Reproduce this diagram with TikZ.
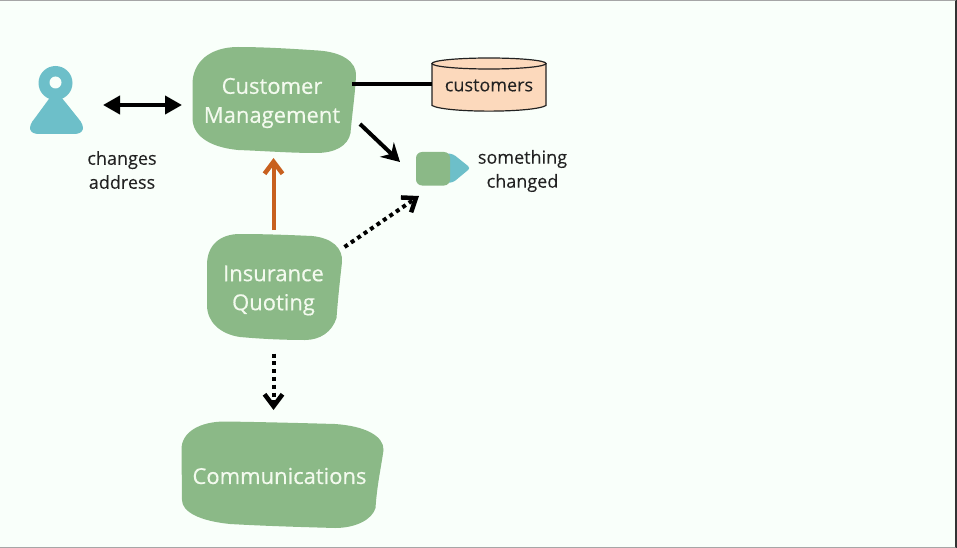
\documentclass[tikz,border=0pt]{standalone}
\usepackage{fontspec}
\setmainfont{Open Sans}
\newfontfamily\boxfont[FakeBold=0.5]{Open Sans}
\newfontfamily\plainfont[FakeBold=0.08]{Open Sans}
\usetikzlibrary{arrows.meta,calc}
\definecolor{bgc}{HTML}{F9FFFA}
\definecolor{blobc}{HTML}{8BB987}
\definecolor{tealc}{HTML}{6DBFC9}
\definecolor{peachc}{HTML}{FCD9BC}
\definecolor{orangec}{HTML}{C8601E}
\definecolor{inkc}{HTML}{222222}
\definecolor{pale}{HTML}{F3FAEE}
\tikzset{
  boxlabel/.style={text=pale,font=\boxfont\fontsize{22}{29}\selectfont,align=center,inner sep=0pt},
  plainlabel/.style={text=inkc,font=\plainfont\fontsize{18}{24}\selectfont,align=center,inner sep=0pt},
  anchorbox/.style={inner sep=0pt,outer sep=0pt},
  blob/.style={fill=blobc,draw=none},
  conn/.style={line width=4pt,black},
  barb/.style={-{Straight Barb[length=12pt,width=18pt,line width=4.5pt]}},
  solidhead/.style={-{Stealth[length=18pt,width=20pt,inset=6pt]}},
  dotline/.style={dash pattern=on 4pt off 3.8pt},
}
\begin{document}
\begin{tikzpicture}[x=1pt,y=-1pt]
\useasboundingbox (0,0) rectangle (957,548);
\fill[bgc] (0,0) rectangle (957,548);
\fill[black!35] (0,0) rectangle (957,1);
\fill[black!35] (0,547) rectangle (957,548);
\shade[top color=black!80,middle color=red!50!black,bottom color=black!80] (955.5,0) rectangle (957,548);
% person
\fill[tealc] (55.5,90) -- (78,118) .. controls (86,127) and (84,134) .. (74,134)
  -- (39,134) .. controls (29,134) and (27,127) .. (35,118) -- cycle;
\fill[tealc] (55.5,83) circle (17);
\fill[bgc] (55.5,82.5) circle (6);
% blobs
\path[blob] (192.5,85) .. controls (192,62) and (210,47) .. (238,47)
  .. controls (265,47) and (295,49) .. (318,50.5)
  .. controls (342,52) and (357,62) .. (356,76)
  .. controls (355,95) and (352,115) .. (350.5,133)
  .. controls (348,146) and (335,153) .. (316,153)
  .. controls (290,153) and (265,151) .. (238,150)
  .. controls (208,147) and (192.5,135) .. (192.5,118) -- cycle;
\path[blob] (207,265) .. controls (207,245) and (220,234) .. (240,234)
  .. controls (265,234) and (290,235) .. (312,236)
  .. controls (332,238) and (343,248) .. (342,262)
  .. controls (340,280) and (338,298) .. (336.5,318)
  .. controls (332,332) and (320,340) .. (305,340)
  .. controls (285,340) and (262,339) .. (240,337)
  .. controls (220,334) and (207,322) .. (207,305) -- cycle;
\path[blob] (181.5,450) .. controls (181,432) and (200,421.5) .. (225,421.5)
  .. controls (260,422) and (300,423) .. (335,424)
  .. controls (365,426) and (384,436) .. (383.5,450)
  .. controls (381,468) and (377,485) .. (375.5,508)
  .. controls (372,520) and (355,528) .. (335,528)
  .. controls (300,527) and (265,526) .. (230,524)
  .. controls (200,521) and (182,512) .. (182,500) -- cycle;
% event
\fill[tealc,rounded corners=3pt] (442,153) -- (453,154) -- (470.5,168) -- (453,182.5) -- (442,183) -- cycle;
\fill[blobc,rounded corners=6pt] (416,152) rectangle (450,185.5);
% cylinder
\path[fill=peachc,draw=inkc,line width=1.2pt] (432,64) -- (432,105.5) .. controls (445,113) and (533,113) .. (546,105.5) -- (546,64) -- cycle;
\path[fill=peachc,draw=inkc,line width=1.2pt] (489,63.5) ellipse (57 and 5.5);
% nodes
\node[anchorbox,minimum width=53pt,minimum height=58pt] (person) at (56.5,105) {};
\node[anchorbox,minimum width=164pt,minimum height=110pt,boxlabel] (cm) at (272,103) {Customer\\Management};
\node[anchorbox,minimum width=130pt,minimum height=106pt,boxlabel] (iq) at (273.5,290.5) {Insurance\\Quoting};
\node[anchorbox,minimum width=200pt,minimum height=106pt,boxlabel] (comm) at (279.5,476) {Communications};
\node[anchorbox,minimum width=114pt,minimum height=40pt,plainlabel] (cust) at (489,85.5) {customers};
\node[anchorbox,minimum width=50pt,minimum height=34pt] (evt) at (442,168.5) {};
\node[plainlabel] (addr) at (122,170) {changes\\address};
\node[plainlabel] (chg) at (522.5,171) {something\\changed};
% connectors
\draw[line width=4pt,{Stealth[length=17pt,width=18pt,inset=0pt]}-{Stealth[length=17pt,width=18pt,inset=0pt]},shorten <=20pt,shorten >=8pt] (person.east) -- (cm.west |- person.east);
\draw[conn] ([xshift=-2pt,yshift=1pt]cm.east |- cust.west) -- ([yshift=1pt]cust.west);
\draw[conn,solidhead] ($(cm.east)+(6,21)$) -- ($(evt.west)+(-17,-6.5)$);
\draw[line width=4pt,orangec,barb] (iq.north |- 0,230) -- (cm.south -| iq.north);
\draw[conn,dotline,barb] ($(iq.east)+(6,-43.5)$) -- ($(evt.west)+(2,27.5)$);
\draw[conn,dotline,barb,shorten <=10pt,shorten >=13pt] (iq.south) -- (comm.north -| iq.south);
\end{tikzpicture}
\end{document}
